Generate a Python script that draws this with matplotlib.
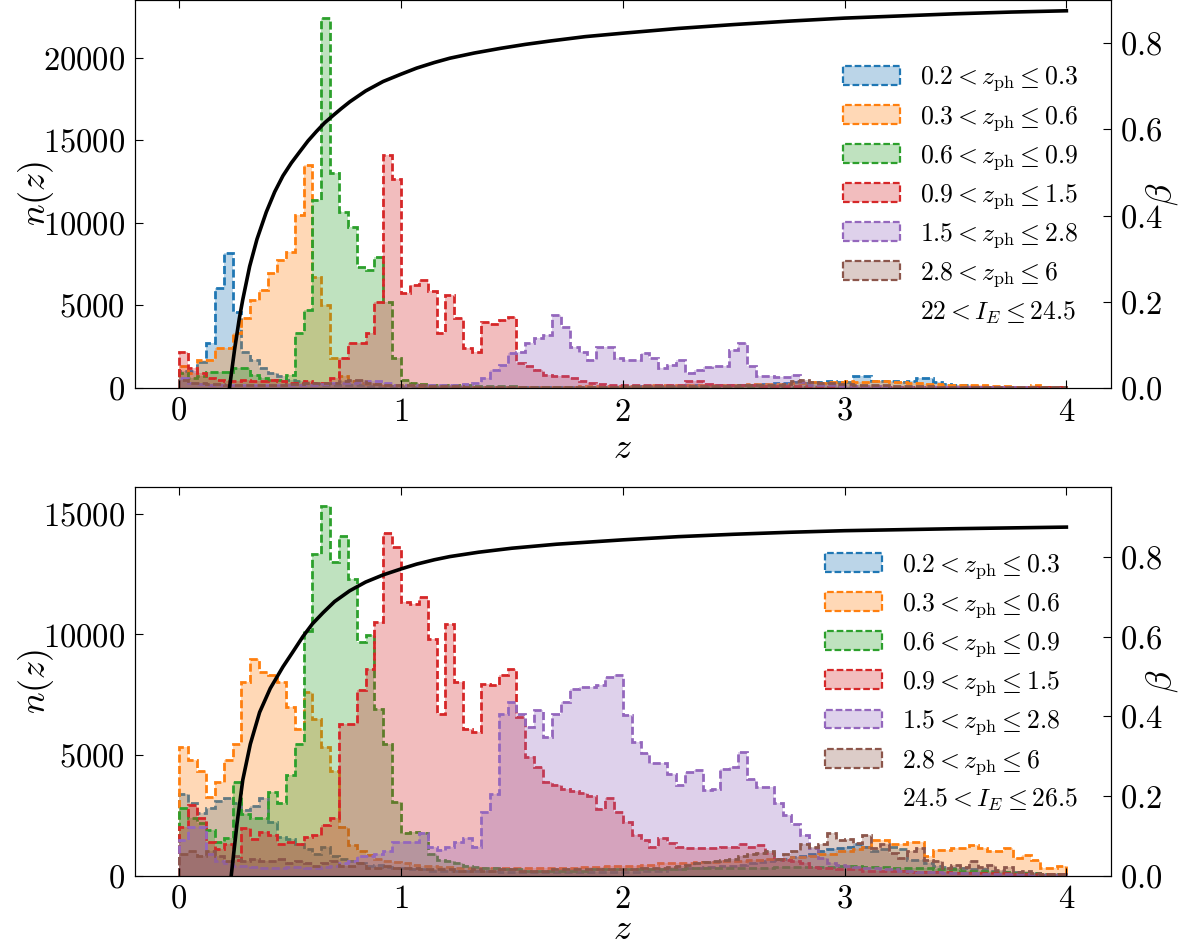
import numpy as np
import matplotlib
matplotlib.use("Agg")
import matplotlib.pyplot as plt
from matplotlib.patches import Patch

plt.rcParams['font.family'] = 'serif'
plt.rcParams['font.serif'] = ['cmr10']
plt.rcParams['mathtext.fontset'] = 'cm'
plt.rcParams['axes.formatter.use_mathtext'] = True

# histogram bins: 0 .. 4 in steps of 0.04
edges = np.linspace(0, 4, 101)

labels = [r'$0.2 < z_{\rm ph} \leq 0.3$', r'$0.3 < z_{\rm ph} \leq 0.6$',
          r'$0.6 < z_{\rm ph} \leq 0.9$', r'$0.9 < z_{\rm ph} \leq 1.5$',
          r'$1.5 < z_{\rm ph} \leq 2.8$', r'$2.8 < z_{\rm ph} \leq 6$']
colors = ['C0', 'C1', 'C2', 'C3', 'C4', 'C5']
mag_labels = [r'$22 < I_E \leq 24.5$', r'$24.5 < I_E \leq 26.5$']

# ---- top panel: 22 < I_E <= 24.5
t_blue = [
    1000, 1000, 1600, 2700, 6050, 8170, 4600, 2200, 1700, 1200,
    900, 700, 500, 400, 300, 250, 200, 200, 150, 150,
    150, 120, 100, 100, 100, 80, 80, 80, 60, 60,
    60, 60, 50, 50, 50, 50, 50, 50, 50, 50,
    50, 50, 50, 60, 60, 60, 60, 80, 80, 80,
    80, 80, 100, 100, 100, 120, 120, 150, 150, 150,
    150, 180, 200, 200, 200, 250, 250, 300, 300, 350,
    300, 350, 350, 400, 350, 350, 700, 700, 450, 400,
    400, 350, 400, 600, 580, 350, 250, 200, 150, 120,
    100, 80, 80, 60, 50, 50, 40, 40, 30, 30]
t_orange = [
    1300, 900, 1700, 1700, 2400, 2400, 3300, 4230, 5320, 5930,
    6960, 7750, 8240, 10470, 13490, 6730, 5020, 1800, 700, 400,
    300, 250, 250, 200, 200, 150, 150, 120, 120, 100,
    100, 100, 80, 80, 80, 80, 80, 80, 80, 80,
    80, 80, 80, 80, 80, 100, 100, 100, 100, 100,
    120, 120, 120, 150, 150, 150, 150, 180, 180, 180,
    200, 200, 200, 200, 220, 220, 250, 250, 250, 300,
    300, 350, 300, 350, 350, 400, 350, 350, 400, 400,
    350, 350, 300, 300, 250, 250, 200, 200, 150, 150,
    150, 120, 100, 100, 80, 80, 200, 80, 60, 50]
t_green = [
    900, 600, 700, 950, 950, 950, 1200, 1200, 800, 600,
    500, 500, 800, 3330, 4720, 11370, 22370, 13000, 10650, 9750,
    7330, 7130, 7930, 5230, 1800, 480, 300, 250, 200, 200,
    200, 150, 150, 120, 120, 100, 100, 100, 80, 80,
    80, 80, 60, 60, 60, 60, 60, 60, 60, 60,
    60, 60, 60, 60, 60, 60, 60, 60, 60, 60,
    60, 60, 60, 60, 60, 80, 80, 80, 80, 80,
    80, 80, 80, 80, 80, 80, 80, 80, 80, 80,
    60, 60, 60, 60, 60, 60, 60, 60, 60, 60,
    40, 40, 40, 40, 40, 40, 40, 40, 40, 40]
t_red = [
    2200, 1200, 900, 600, 500, 400, 400, 500, 400, 400,
    500, 400, 300, 300, 400, 300, 300, 600, 1800, 2720,
    2700, 3330, 5230, 14100, 12650, 5750, 6230, 6510, 5850, 3320,
    5630, 4240, 2420, 2180, 3990, 3870, 4110, 4300, 1510, 1310,
    1110, 800, 710, 710, 600, 400, 300, 250, 200, 200,
    200, 200, 150, 200, 200, 150, 200, 400, 400, 250,
    200, 200, 150, 150, 150, 120, 120, 100, 100, 100,
    100, 80, 80, 80, 80, 60, 60, 60, 60, 60,
    50, 50, 50, 50, 50, 50, 50, 50, 50, 50,
    40, 40, 40, 40, 40, 40, 40, 40, 40, 40]
t_purple = [
    600, 300, 250, 200, 200, 200, 150, 150, 150, 150,
    150, 150, 150, 150, 200, 200, 250, 300, 300, 300,
    350, 400, 450, 300, 200, 200, 200, 200, 150, 150,
    200, 200, 250, 300, 600, 1090, 1390, 2100, 2200, 2700,
    3000, 3200, 4420, 3710, 2500, 2200, 1690, 2500, 2500, 1800,
    1690, 1690, 2100, 1800, 1190, 1390, 1690, 900, 1090, 1290,
    1300, 1350, 2300, 2700, 1330, 700, 700, 690, 690, 760,
    380, 200, 150, 150, 120, 100, 100, 100, 100, 80,
    80, 80, 80, 60, 60, 60, 60, 50, 50, 50,
    40, 40, 40, 30, 30, 30, 20, 20, 20, 20]
t_brown = [
    500, 300, 300, 250, 250, 200, 200, 200, 200, 200,
    200, 200, 250, 250, 300, 300, 300, 300, 400, 500,
    500, 300, 250, 200, 200, 150, 150, 150, 100, 100,
    100, 100, 80, 80, 80, 80, 80, 80, 80, 80,
    80, 80, 80, 80, 80, 80, 80, 80, 80, 80,
    100, 100, 100, 100, 100, 100, 100, 100, 100, 100,
    100, 100, 100, 150, 150, 150, 200, 200, 250, 400,
    500, 350, 300, 300, 250, 250, 200, 200, 150, 150,
    120, 120, 100, 100, 100, 80, 80, 80, 60, 60,
    60, 50, 50, 50, 40, 40, 40, 30, 30, 30]

# ---- bottom panel: 24.5 < I_E <= 26.5
b_blue = [
    3400, 3000, 2600, 2800, 3100, 3200, 3000, 2700, 2900, 3200,
    2200, 1600, 1500, 1300, 1100, 900, 1200, 800, 700, 600,
    500, 400, 450, 350, 300, 300, 250, 250, 200, 200,
    200, 200, 200, 180, 180, 180, 150, 150, 150, 150,
    150, 150, 150, 150, 150, 150, 150, 150, 150, 150,
    150, 150, 200, 200, 200, 250, 250, 300, 300, 350,
    350, 400, 400, 450, 500, 550, 600, 650, 700, 750,
    800, 900, 1000, 1100, 1130, 1200, 1300, 1200, 1000, 1100,
    1200, 1100, 650, 650, 500, 400, 350, 300, 300, 250,
    250, 200, 200, 150, 150, 100, 100, 80, 60, 50]
b_orange = [
    5330, 4780, 4340, 3260, 3880, 4780, 5470, 8020, 8990, 8440,
    8300, 8020, 6990, 6090, 7610, 6500, 5330, 4340, 2020, 1260,
    1000, 870, 700, 600, 550, 500, 450, 400, 400, 350,
    350, 300, 300, 300, 300, 300, 300, 300, 300, 300,
    300, 300, 300, 300, 300, 350, 350, 350, 400, 400,
    400, 400, 450, 450, 500, 500, 500, 500, 550, 550,
    550, 600, 600, 600, 650, 650, 700, 700, 700, 750,
    750, 800, 900, 900, 1000, 1000, 1100, 1200, 1470, 1470,
    1300, 1300, 1400, 1400, 800, 1060, 1060, 1130, 1130, 1250,
    1130, 1000, 1000, 1130, 710, 850, 650, 300, 300, 380]
b_green = [
    2800, 2400, 2170, 1880, 1400, 1550, 3880, 2570, 2370, 2400,
    3470, 3000, 4160, 5470, 10160, 13340, 15340, 12990, 14100, 12300,
    9680, 9960, 6920, 5470, 3060, 1750, 1800, 1750, 900, 640,
    600, 500, 400, 350, 300, 300, 250, 250, 250, 200,
    200, 200, 200, 200, 200, 200, 250, 250, 250, 250,
    250, 250, 250, 250, 250, 250, 250, 300, 300, 300,
    300, 300, 300, 300, 300, 300, 300, 350, 350, 350,
    350, 350, 350, 350, 400, 400, 400, 350, 350, 350,
    300, 300, 300, 300, 300, 250, 250, 250, 200, 200,
    200, 150, 150, 150, 100, 100, 100, 80, 60, 50]
b_red = [
    2020, 2920, 2370, 1390, 1100, 1300, 650, 1990, 1500, 1800,
    1700, 1300, 1400, 1300, 1600, 1700, 2100, 2370, 6300, 6300,
    7680, 8580, 10510, 14230, 13610, 11330, 11260, 11540, 9820, 6720,
    10440, 8030, 6090, 5950, 7960, 7890, 8300, 8580, 6580, 4930,
    4510, 3890, 3750, 3600, 3500, 3410, 3300, 2780, 3200, 2640,
    2230, 1680, 1470, 1200, 1540, 1330, 1200, 1150, 1130, 1130,
    1130, 1200, 1200, 1300, 1200, 1270, 920, 700, 650, 600,
    500, 350, 300, 300, 250, 250, 250, 200, 200, 200,
    200, 200, 150, 150, 150, 150, 150, 120, 120, 120,
    100, 100, 100, 100, 80, 80, 80, 60, 60, 50]
b_purple = [
    1470, 2020, 2000, 900, 600, 500, 400, 400, 350, 300,
    300, 300, 350, 350, 300, 300, 350, 400, 500, 600,
    800, 810, 900, 1000, 1400, 1400, 1400, 1750, 1200, 1060,
    1200, 1400, 1540, 1200, 2640, 3400, 6720, 7200, 6700, 6150,
    6850, 5740, 6700, 7200, 7750, 7820, 7820, 7900, 8240, 8310,
    6650, 5540, 5070, 4650, 4650, 4230, 3750, 4300, 4370, 3540,
    3610, 4440, 4510, 5130, 4020, 3680, 3680, 2990, 2500, 2150,
    1680, 1130, 720, 500, 450, 400, 350, 300, 300, 250,
    250, 200, 200, 150, 150, 150, 120, 100, 100, 100,
    80, 80, 60, 60, 50, 50, 40, 40, 30, 30]
b_brown = [
    900, 1000, 800, 1000, 800, 600, 800, 600, 700, 600,
    600, 700, 500, 600, 500, 400, 500, 600, 400, 400,
    500, 300, 300, 400, 300, 300, 300, 250, 250, 250,
    250, 200, 200, 250, 200, 200, 250, 250, 200, 200,
    200, 200, 250, 250, 250, 250, 250, 250, 250, 250,
    250, 250, 300, 300, 300, 350, 400, 450, 500, 550,
    600, 650, 700, 800, 900, 950, 1000, 700, 900, 1000,
    1300, 1200, 1300, 1750, 1470, 1500, 1350, 1680, 1130, 1300,
    920, 710, 1000, 1130, 650, 600, 300, 440, 370, 600,
    370, 440, 230, 370, 150, 200, 100, 80, 60, 50]

# lensing efficiency beta(z)
beta_z_top = [0.226, 0.249, 0.27, 0.286, 0.317, 0.35, 0.392, 0.43, 0.467, 0.505,
              0.543, 0.58, 0.618, 0.655, 0.693, 0.73, 0.769, 0.84, 0.919, 1.0,
              1.07, 1.15, 1.22, 1.33, 1.45, 1.56, 1.674, 1.83, 2.0, 2.25,
              2.5, 2.75, 3.0, 3.25, 3.5, 3.75, 4.0]
beta_top = [0.0, 0.089, 0.16, 0.205, 0.282, 0.345, 0.408, 0.455, 0.492, 0.522,
            0.548, 0.573, 0.595, 0.615, 0.632, 0.648, 0.664, 0.689, 0.711, 0.728,
            0.742, 0.755, 0.765, 0.777, 0.788, 0.797, 0.805, 0.815, 0.823, 0.834,
            0.843, 0.851, 0.858, 0.863, 0.868, 0.872, 0.875]
beta_z_bot = [0.234, 0.26, 0.286, 0.32, 0.362, 0.41, 0.467, 0.51, 0.557, 0.6,
              0.648, 0.7, 0.768, 0.84, 0.919, 1.0, 1.07, 1.15, 1.22, 1.35,
              1.5, 1.7, 2.0, 2.25, 2.5, 2.75, 3.0, 3.5, 4.0]
beta_bot = [0.0, 0.13, 0.24, 0.33, 0.41, 0.47, 0.524, 0.56, 0.6, 0.632,
            0.66, 0.688, 0.715, 0.737, 0.755, 0.77, 0.782, 0.793, 0.801, 0.812,
            0.822, 0.832, 0.843, 0.851, 0.857, 0.862, 0.866, 0.871, 0.875]

top_series = [t_blue, t_orange, t_green, t_red, t_purple, t_brown]
bot_series = [b_blue, b_orange, b_green, b_red, b_purple, b_brown]

fig = plt.figure(figsize=(12, 9.46), dpi=100)
ax_top = fig.add_axes([0.1125, 0.5899, 0.8131, 0.4101])
ax_bot = fig.add_axes([0.1125, 0.0745, 0.8131, 0.4104])

dash = (0, (2.9, 1.2))


def draw_panel(ax, series, bz, bvals, bmax, mag_label, xpad):
    for vals, c in zip(series, colors):
        ax.stairs(vals, edges, baseline=0, fill=True, color=c, alpha=0.3, lw=0)
        ax.stairs(vals, edges, baseline=0, color=c, ls=dash, lw=2)
    ax.set_xticks([0, 1, 2, 3, 4])
    ax.set_xticklabels(['0', '1', '2', '3', '4'])
    ax.set_xlabel(r'$z$', fontsize=26, labelpad=xpad)
    ax.set_ylabel(r'$n(z)$', fontsize=26, labelpad=-9)
    ax.tick_params(direction='in', length=6, labelsize=23.5, top=True,
                   right=False, pad=7)

    ax2 = ax.twinx()
    ax2.plot(bz, bvals, color='k', lw=2.6)
    ax2.set_ylim(0, bmax)
    ax2.set_yticks([0.0, 0.2, 0.4, 0.6, 0.8])
    ax2.set_ylabel(r'$\beta$', fontsize=26, labelpad=-14)
    ax2.tick_params(direction='in', length=6, labelsize=23.5, pad=7)

    handles = [Patch(facecolor=matplotlib.colors.to_rgba(c, 0.3), edgecolor=c,
                     ls=(0, (3, 1.3)), lw=1.6) for c in colors]
    handles.append(Patch(facecolor='none', edgecolor='none'))
    ax2.legend(handles, labels + [mag_label], loc='upper right',
               bbox_to_anchor=(0.977, 0.86), borderaxespad=0,
               frameon=False, fontsize=18.5, labelspacing=0.4,
               handlelength=2.2, handleheight=0.75, handletextpad=0.78)
    return ax2


draw_panel(ax_top, top_series, beta_z_top, beta_top, 0.9, mag_labels[0], 5)
draw_panel(ax_bot, bot_series, beta_z_bot, beta_bot, 0.975, mag_labels[1], 0)

fig.savefig('out.png', dpi=100)
